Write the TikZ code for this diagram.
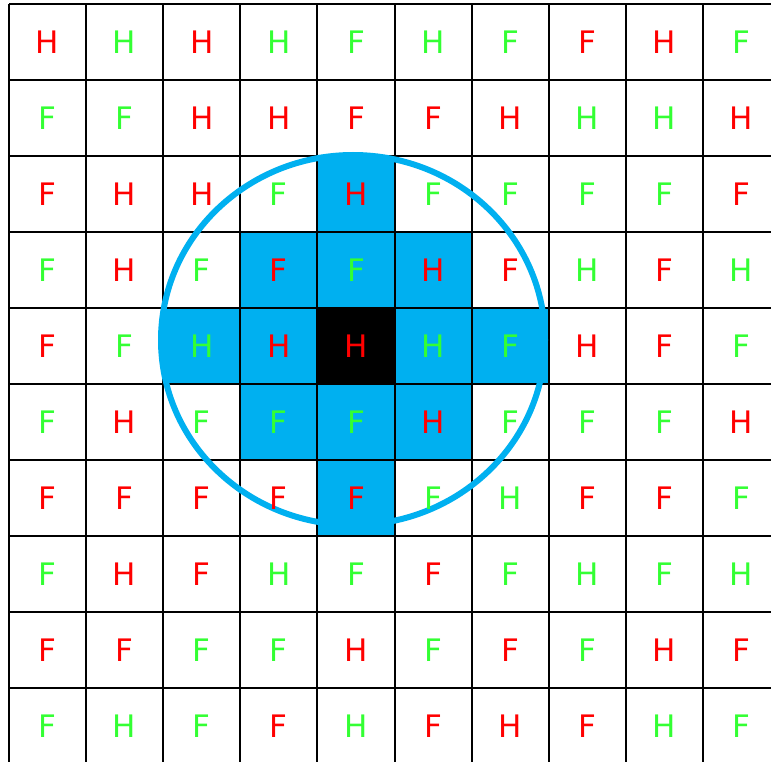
\documentclass[tikz,border=0pt]{standalone}
\usepackage{fontspec}
\setmainfont{DejaVu Sans}
\usetikzlibrary{positioning}
\definecolor{CellR}{RGB}{255,0,0}
\definecolor{CellG}{RGB}{51,255,51}
\definecolor{ZoneBlue}{RGB}{0,176,240}
\tikzset{
  letter/.style={font=\fontsize{31}{31}\selectfont,inner sep=0pt},
  gridline/.style={draw=black,line width=2pt},
  zonecell/.style={fill=ZoneBlue},
  centrecell/.style={fill=black},
  zonering/.style={draw=ZoneBlue,line width=6pt}
}
\begin{document}
\begin{tikzpicture}[x=1pt,y=-1pt]
  \clip (0,0) rectangle (771,762);
  \fill[white] (0,0) rectangle (771,762);
  % neighbourhood cells
  \foreach \r/\c in {3/5,4/4,4/5,4/6,5/3,5/4,5/6,5/7,6/4,6/5,6/6,7/5}
    \fill[zonecell] ({9+(\c-1)*77.1},{4+(\r-1)*76}) rectangle ++(77.1,76);
  \fill[centrecell] ({9+4*77.1},{4+4*76}) rectangle ++(77.1,76);
  % grid
  \foreach \i in {0,...,10} {
    \draw[gridline] ({9+\i*77.1},4) -- ({9+\i*77.1},800);
    \draw[gridline] (9,{4+\i*76}) -- (800,{4+\i*76});
  }
  % ring
  \node[draw=none,inner sep=0pt] (centre) at (353,340) {};
  \draw[zonering] (centre) ellipse [x radius=192,y radius=185];
  % letters
  \foreach \row [count=\r] in {
    {H/R,H/G,H/R,H/G,F/G,H/G,F/G,F/R,H/R,F/G},
    {F/G,F/G,H/R,H/R,F/R,F/R,H/R,H/G,H/G,H/R},
    {F/R,H/R,H/R,F/G,H/R,F/G,F/G,F/G,F/G,F/R},
    {F/G,H/R,F/G,F/R,F/G,H/R,F/R,H/G,F/R,H/G},
    {F/R,F/G,H/G,H/R,H/R,H/G,F/G,H/R,F/R,F/G},
    {F/G,H/R,F/G,F/G,F/G,H/R,F/G,F/G,F/G,H/R},
    {F/R,F/R,F/R,F/R,F/R,F/G,H/G,F/R,F/R,F/G},
    {F/G,H/R,F/R,H/G,F/G,F/R,F/G,H/G,F/G,H/G},
    {F/R,F/R,F/G,F/G,H/R,F/G,F/R,F/G,H/R,F/R},
    {F/G,H/G,F/G,F/R,H/G,F/R,H/R,F/R,H/G,F/G}} {
    \foreach \lt/\cl [count=\c] in \row
      \node[letter,text=Cell\cl] (cell-\r-\c)
        at ({9+(\c-0.5)*77.1},{4+(\r-0.5)*76}) {\lt};
  }
\end{tikzpicture}
\end{document}
